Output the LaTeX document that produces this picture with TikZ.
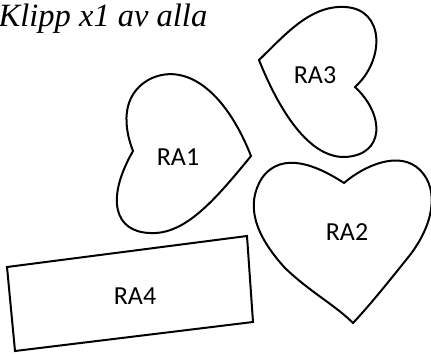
\documentclass[tikz,border=0pt]{standalone}
\usepackage{fontspec}
\newfontfamily\labelfont{Carlito}
\newfontfamily\headfont{Liberation Serif}
\usetikzlibrary{calc, positioning}

\begin{document}
\begin{tikzpicture}[x=1pt, y=-1pt,% styles used in image code
cutline/.style = {draw, line width=2pt},
    tag/.style = {font=\labelfont\fontsize{26}{30}\selectfont,
                  inner sep=0pt, outer sep=0pt},
  title/.style = {font=\headfont\itshape\fontsize{32.5}{36}\selectfont,
                  inner sep=0pt, anchor=base west}
                   ]
	\useasboundingbox (0,0) rectangle (431,356);
	% heading
	\node[title] (head) at (-1.5,27) {Klipp x1 av alla};

	% heart RA1 (tip to the right)
	\coordinate (n1) at (133,151);
	\coordinate (t1) at (251,156);
	\draw[cutline] (n1) .. controls (124,128) and (120,95) .. (150,79)
	                    .. controls (185,62) and (225,90) .. (t1)
	                    .. controls (215,200) and (185,235) .. (150,233)
	                    .. controls (115,232) and (105,200) .. cycle;
	\node[tag] (ra1) at (178,157) {RA1};

	% heart RA3 (tip to the left)
	\coordinate (n3) at (355,87);
	\coordinate (t3) at (259,60);
	\draw[cutline] (t3) .. controls (285,35) and (310,5) .. (345,7)
	                    .. controls (385,9) and (385,60) .. (n3)
	                    .. controls (385,115) and (385,155) .. (345,157)
	                    .. controls (305,158) and (275,100) .. cycle;
	\node[tag] (ra3) at (315,75) {RA3};

	% heart RA2 (upright)
	\coordinate (n2) at (344,183);
	\coordinate (t2) at (353,323);
	\draw[cutline] (n2) .. controls (318,166) and (282,150) .. (262,178)
	                    .. controls (245,205) and (255,235) .. (285,268)
	                    .. controls (310,292) and (335,305) .. (t2)
	                    .. controls (370,305) and (390,280) .. (410,255)
	                    .. controls (433,225) and (440,190) .. (420,170)
	                    .. controls (400,150) and (365,165) .. cycle;
	\node[tag] (ra2) at (347,232) {RA2};

	% strip RA4
	\coordinate (a) at (7,267);
	\coordinate (b) at (247,236);
	\coordinate (c) at (253,322);
	\coordinate (d) at (15,351);
	\draw[cutline] (a) -- (b) -- (c) -- (d) -- cycle;
	\node[tag] (ra4) at (135,296) {RA4};
\end{tikzpicture}
\end{document}
